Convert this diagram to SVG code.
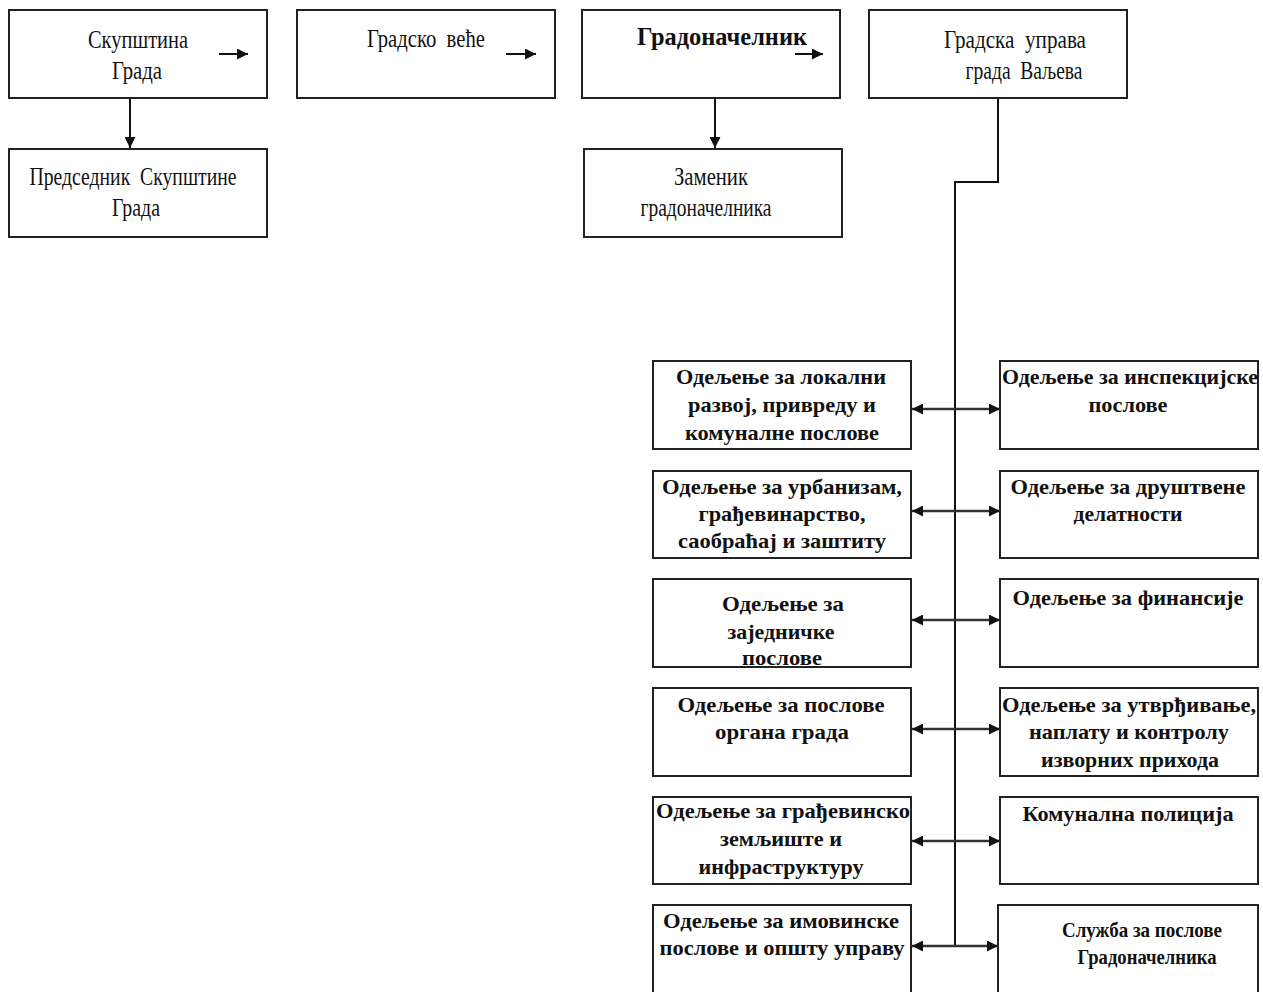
<svg xmlns="http://www.w3.org/2000/svg" width="1263" height="992" viewBox="0 0 1263 992">
<defs>
<marker id="ah" viewBox="0 0 10 10" refX="10" refY="5" markerWidth="11" markerHeight="11" markerUnits="userSpaceOnUse" orient="auto-start-reverse">
<path d="M0,0 L10,5 L0,10 Z" fill="#111"/>
</marker>
</defs>
<style>
.box{fill:#fff;stroke:#222;stroke-width:2}
.t{font-family:"Liberation Serif","Times New Roman",serif;font-size:26px;fill:#111;text-anchor:middle}
.b{font-family:"Liberation Serif","Times New Roman",serif;font-size:22px;font-weight:bold;fill:#111;text-anchor:middle}
.c{fill:none;stroke:#111;stroke-width:2}
.h{fill:none;stroke:#333;stroke-width:2.5}
</style>
<rect width="1263" height="992" fill="#fff"/>
<g id="skupstina">
<rect class="box" x="9" y="10" width="258" height="88"/>
<text class="t" x="138" y="48" textLength="100" lengthAdjust="spacingAndGlyphs">Скупштина</text>
<text class="t" x="137" y="79" textLength="50" lengthAdjust="spacingAndGlyphs">Града</text>
</g>
<g id="gradsko-vece">
<rect class="box" x="297" y="10" width="258" height="88"/>
<text class="t" x="426" y="47" textLength="118" lengthAdjust="spacingAndGlyphs" xml:space="preserve">Градско  веће</text>
</g>
<g id="gradonacelnik">
<rect class="box" x="582" y="10" width="258" height="88"/>
<text class="t" x="722" y="45" textLength="170" lengthAdjust="spacingAndGlyphs" font-weight="bold">Градоначелник</text>
</g>
<g id="gradska-uprava">
<rect class="box" x="869" y="10" width="258" height="88"/>
<text class="t" x="1015" y="48" textLength="142" lengthAdjust="spacingAndGlyphs" xml:space="preserve">Градска  управа</text>
<text class="t" x="1024" y="79" textLength="117" lengthAdjust="spacingAndGlyphs" xml:space="preserve">града  Ваљева</text>
</g>
<g id="predsednik">
<rect class="box" x="9" y="149" width="258" height="88"/>
<text class="t" x="133" y="185" textLength="207" lengthAdjust="spacingAndGlyphs" xml:space="preserve">Председник  Скупштине</text>
<text class="t" x="136" y="216" textLength="48" lengthAdjust="spacingAndGlyphs">Града</text>
</g>
<g id="zamenik">
<rect class="box" x="584" y="149" width="258" height="88"/>
<text class="t" x="711" y="185" textLength="74" lengthAdjust="spacingAndGlyphs">Заменик</text>
<text class="t" x="706" y="216" textLength="131" lengthAdjust="spacingAndGlyphs">градоначелника</text>
</g>
<g id="l1">
<rect class="box" x="653" y="361" width="258" height="88"/>
<text class="b" x="781" y="384" textLength="210" lengthAdjust="spacingAndGlyphs">Одељење за локални</text>
<text class="b" x="782" y="412" textLength="188" lengthAdjust="spacingAndGlyphs">развој, привреду и</text>
<text class="b" x="782" y="440" textLength="194" lengthAdjust="spacingAndGlyphs">комуналне послове</text>
</g>
<g id="r1">
<rect class="box" x="1000" y="361" width="258" height="88"/>
<text class="b" x="1130" y="384" textLength="256" lengthAdjust="spacingAndGlyphs">Одељење за инспекцијске</text>
<text class="b" x="1128" y="412" textLength="79" lengthAdjust="spacingAndGlyphs">послове</text>
</g>
<g id="l2">
<rect class="box" x="653" y="471" width="258" height="87"/>
<text class="b" x="782" y="494" textLength="240" lengthAdjust="spacingAndGlyphs">Одељење за урбанизам,</text>
<text class="b" x="782" y="521" textLength="167" lengthAdjust="spacingAndGlyphs">грађевинарство,</text>
<text class="b" x="782" y="548" textLength="208" lengthAdjust="spacingAndGlyphs">саобраћај и заштиту</text>
</g>
<g id="r2">
<rect class="box" x="1000" y="471" width="258" height="87"/>
<text class="b" x="1128" y="494" textLength="235" lengthAdjust="spacingAndGlyphs">Одељење за друштвене</text>
<text class="b" x="1128" y="521" textLength="109" lengthAdjust="spacingAndGlyphs">делатности</text>
</g>
<g id="l3">
<rect class="box" x="653" y="579" width="258" height="88"/>
<text class="b" x="783" y="611" textLength="122" lengthAdjust="spacingAndGlyphs">Одељење за</text>
<text class="b" x="781" y="639" textLength="107" lengthAdjust="spacingAndGlyphs">заједничке</text>
<text class="b" x="782" y="665" textLength="80" lengthAdjust="spacingAndGlyphs">послове</text>
</g>
<g id="r3">
<rect class="box" x="1000" y="579" width="258" height="88"/>
<text class="b" x="1128" y="605" textLength="231" lengthAdjust="spacingAndGlyphs">Одељење за финансије</text>
</g>
<g id="l4">
<rect class="box" x="653" y="688" width="258" height="88"/>
<text class="b" x="781" y="712" textLength="207" lengthAdjust="spacingAndGlyphs">Одељење за послове</text>
<text class="b" x="782" y="739" textLength="134" lengthAdjust="spacingAndGlyphs">органа града</text>
</g>
<g id="r4">
<rect class="box" x="1000" y="688" width="258" height="88"/>
<text class="b" x="1129" y="712" textLength="254" lengthAdjust="spacingAndGlyphs">Одељење за утврђивање,</text>
<text class="b" x="1129" y="739" textLength="200" lengthAdjust="spacingAndGlyphs">наплату и контролу</text>
<text class="b" x="1130" y="767" textLength="178" lengthAdjust="spacingAndGlyphs">изворних прихода</text>
</g>
<g id="l5">
<rect class="box" x="653" y="797" width="258" height="87"/>
<text class="b" x="783" y="818" textLength="254" lengthAdjust="spacingAndGlyphs">Одељење за грађевинско</text>
<text class="b" x="781" y="846" textLength="122" lengthAdjust="spacingAndGlyphs">земљиште и</text>
<text class="b" x="781" y="874" textLength="165" lengthAdjust="spacingAndGlyphs">инфраструктуру</text>
</g>
<g id="r5">
<rect class="box" x="1000" y="797" width="258" height="87"/>
<text class="b" x="1128" y="821" textLength="211" lengthAdjust="spacingAndGlyphs">Комунална полиција</text>
</g>
<g id="l6">
<rect class="box" x="653" y="905" width="258" height="100"/>
<text class="b" x="781" y="928" textLength="236" lengthAdjust="spacingAndGlyphs">Одељење за имовинске</text>
<text class="b" x="782" y="955" textLength="245" lengthAdjust="spacingAndGlyphs">послове и општу управу</text>
</g>
<g id="r6">
<rect class="box" x="998" y="905" width="260" height="100"/>
<text class="b" x="1142" y="937" textLength="160" lengthAdjust="spacingAndGlyphs" font-weight="normal">Служба за послове</text>
<text class="b" x="1147" y="964" textLength="139" lengthAdjust="spacingAndGlyphs" font-weight="normal">Градоначелника</text>
</g>
<g id="connectors">
<line class="c" x1="130" y1="99" x2="130" y2="148" marker-end="url(#ah)"/>
<line class="c" x1="715" y1="99" x2="715" y2="148" marker-end="url(#ah)"/>
<line class="c" x1="219" y1="54" x2="248" y2="54" marker-end="url(#ah)"/>
<line class="c" x1="506" y1="54" x2="536" y2="54" marker-end="url(#ah)"/>
<line class="c" x1="795" y1="54" x2="823" y2="54" marker-end="url(#ah)"/>
<polyline class="c" points="998,99 998,182 955,182 955,947"/>
<line class="h" x1="912" y1="409" x2="1000" y2="409" marker-start="url(#ah)" marker-end="url(#ah)"/>
<line class="h" x1="912" y1="511" x2="1000" y2="511" marker-start="url(#ah)" marker-end="url(#ah)"/>
<line class="h" x1="912" y1="620" x2="1000" y2="620" marker-start="url(#ah)" marker-end="url(#ah)"/>
<line class="h" x1="912" y1="729" x2="1000" y2="729" marker-start="url(#ah)" marker-end="url(#ah)"/>
<line class="h" x1="912" y1="841" x2="1000" y2="841" marker-start="url(#ah)" marker-end="url(#ah)"/>
<line class="h" x1="912" y1="946" x2="998" y2="946" marker-start="url(#ah)" marker-end="url(#ah)"/>
</g>
</svg>
